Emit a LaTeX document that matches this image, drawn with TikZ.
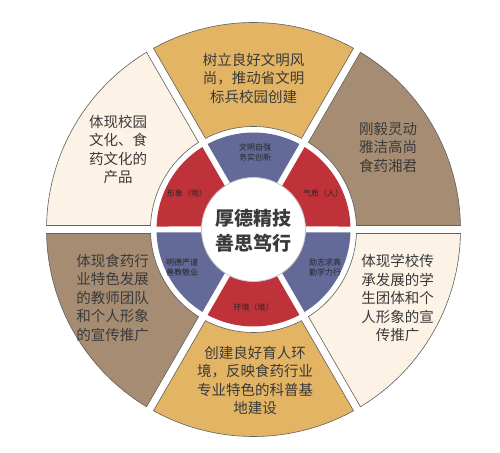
\documentclass[tikz,border=0pt]{standalone}
\usepackage{fontspec}
\setmainfont{Noto Sans CJK SC}
\definecolor{goldseg}{HTML}{E2B464}
\definecolor{brownseg}{HTML}{A58C73}
\definecolor{creamseg}{HTML}{FDF2E6}
\definecolor{redseg}{HTML}{C0323A}
\definecolor{blueseg}{HTML}{646A98}
\definecolor{txt}{HTML}{3A3A3A}
\begin{document}
\begin{tikzpicture}[x=1pt,y=1pt,
  outerseg/.style={draw=gray!75!black, line width=0.6pt},
  innerseg/.style={draw=none},
  outertext/.style={align=center, text=txt, font=\fontsize{14.5}{18.5}\selectfont, inner sep=0pt},
  innertext/.style={align=center, text=black!85, font=\fontsize{8}{10}\selectfont, inner sep=0pt},
  centertext/.style={align=center, text=txt, font=\fontsize{19}{25}\selectfont\bfseries, inner sep=0pt},
]
\useasboundingbox (0,0) rectangle (500,452);
\begin{scope}[shift={(253.5,222.5)}]
  % outer ring
  \foreach \a/\col in {0/brownseg,60/goldseg,120/creamseg,180/brownseg,240/goldseg,300/creamseg}{
    \pgfmathsetmacro\dB{asin(4/207)}
    \pgfmathsetmacro\dA{asin(4/103)}
    \draw[outerseg, fill=\col] ({\a+\dB}:207pt) arc[start angle={\a+\dB}, end angle={\a+60-\dB}, radius=207pt]
      -- ({\a+60-\dA}:103pt) arc[start angle={\a+60-\dA}, end angle={\a+\dA}, radius=103pt] -- cycle;
  }
  % inner ring
  \foreach \a/\col in {0/redseg,60/blueseg,120/redseg,180/blueseg,240/redseg,300/blueseg}{
    \pgfmathsetmacro\dB{asin(3/97)}
    \pgfmathsetmacro\dA{asin(3/52)}
    \fill[\col] ({\a+\dB}:97pt) arc[start angle={\a+\dB}, end angle={\a+60-\dB}, radius=97pt]
      -- ({\a+60-\dA}:52pt) arc[start angle={\a+60-\dA}, end angle={\a+\dA}, radius=52pt] -- cycle;
  }
  \draw[fill=white, draw=gray!45, line width=0.8pt] (0,0) circle[radius=52pt];

  % outer texts
  \node[outertext] (t1) at (0,151.5) {树立良好文明风\\尚，推动省文明\\标兵校园创建};
  \node[outertext] (t2) at (134.5,82.5) {刚毅灵动\\雅洁高尚\\食药湘君};
  \node[outertext] (t3) at (144,-68.5) {体现学校传\\承发展的学\\生团体和个\\人形象的宣\\传推广};
  \node[outertext] (t4) at (1.5,-151) {创建良好育人环\\境，反映食药行业\\专业特色的科普基\\地建设};
  \node[outertext] (t5) at (-141,-68.5) {体现食药行\\业特色发展\\的教师团队\\和个人形象\\的宣传推广};
  \node[outertext] (t6) at (-135.5,80) {体现校园\\文化、食\\药文化的\\产品};

  % inner texts
  \node[innertext] (i1) at (1.5,77.5) {文明自强\\务实创新};
  \node[innertext] (i2) at (69.5,36.5) {气质（人）};
  \node[innertext] (i3) at (-66.5,36.5) {形象（物）};
  \node[innertext] (i4) at (-71.5,-37.5) {明德严谨\\善教敬业};
  \node[innertext] (i5) at (71.5,-37.5) {励志求真\\勤学力行};
  \node[innertext] (i6) at (0,-77.5) {环境（境）};

  % center
  \node[centertext] (c) at (0,-1) {厚德精技\\善思笃行};
\end{scope}
\end{tikzpicture}
\end{document}
